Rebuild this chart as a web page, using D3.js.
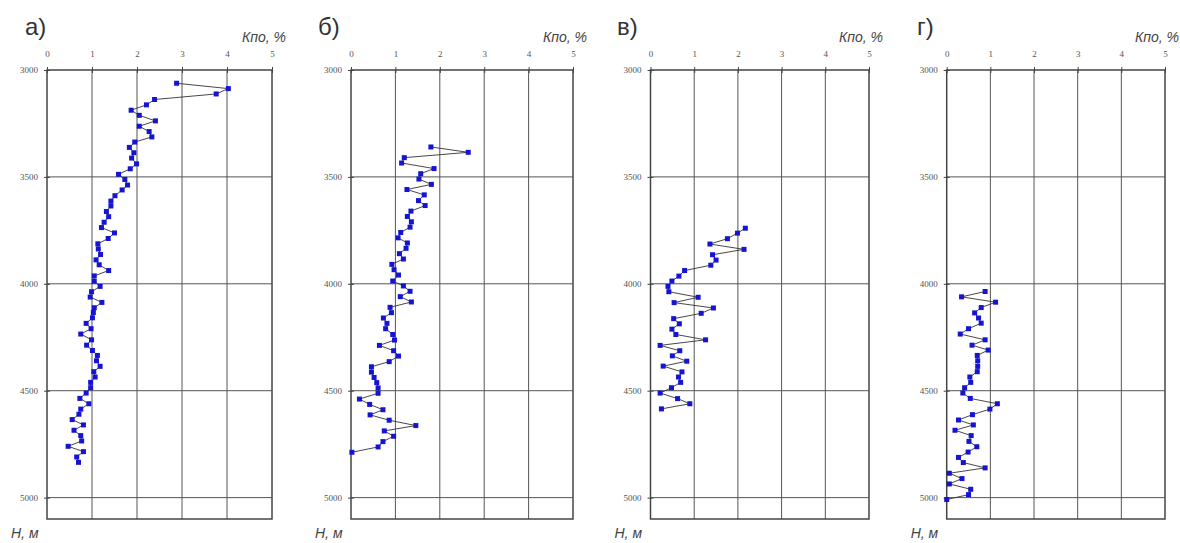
<!DOCTYPE html>
<html>
<head>
<meta charset="utf-8">
<script src="https://cdn.jsdelivr.net/npm/d3@7/dist/d3.min.js"></script>
<style>
    html, body { margin: 0; padding: 0; background: #fff; }
    svg { display: block; }
    .tick text { font-family: "Liberation Serif", "DejaVu Serif", serif; font-size: 9px; fill: #555; }
    .tick line { stroke: #444; stroke-width: 1; }
    .axis-title { font-family: "Liberation Sans", Arial, sans-serif; font-style: italic; font-size: 14px; fill: #444; }
    .panel-letter { font-family: "Liberation Sans", Arial, sans-serif; font-size: 24px; fill: #333; }
</style>
</head>
<body>
<div id="chart"></div>
<script>
;(function () {

    // ---- data ----
    var panelLetters = ['а)', 'б)', 'в)', 'г)'];
    var xTicks = [0, 1, 2, 3, 4, 5];
    var yTicks = [3000, 3500, 4000, 4500, 5000];

    var depthA = [3062, 3087, 3112, 3138, 3163, 3188, 3212, 3238, 3263, 3288, 3313, 3337, 3362, 3387, 3412, 3439,
        3462, 3488, 3512, 3538, 3561, 3588, 3613, 3636, 3662, 3686, 3712, 3737, 3762, 3788, 3813, 3837, 3863, 3888,
        3911, 3938, 3963, 3988, 4012, 4037, 4062, 4087, 4112, 4134, 4159, 4185, 4210, 4235, 4262, 4287, 4312, 4335,
        4360, 4386, 4411, 4436, 4461, 4486, 4511, 4536, 4561, 4586, 4610, 4635, 4660, 4685, 4710, 4735, 4760, 4785,
        4810, 4835];
    var kpoA = [2.88, 4.03, 3.76, 2.39, 2.21, 1.87, 2.05, 2.41, 2.05, 2.27, 2.33, 1.95, 1.83, 1.93, 1.88, 1.99,
        1.85, 1.59, 1.73, 1.79, 1.67, 1.51, 1.42, 1.42, 1.32, 1.37, 1.27, 1.21, 1.50, 1.36, 1.13, 1.14, 1.19, 1.09,
        1.16, 1.37, 1.05, 1.05, 1.18, 0.99, 0.96, 1.22, 1.05, 1.03, 1.01, 0.87, 0.98, 0.75, 0.99, 0.88, 1.01, 1.12,
        1.10, 1.18, 1.04, 1.07, 0.97, 0.97, 0.87, 0.73, 0.93, 0.75, 0.71, 0.56, 0.81, 0.60, 0.75, 0.77, 0.47, 0.81,
        0.66, 0.70];

    var depthB = [3360, 3385, 3410, 3435, 3461, 3485, 3510, 3535, 3559, 3584, 3611, 3634, 3660, 3685, 3710, 3735,
        3760, 3785, 3809, 3834, 3859, 3884, 3909, 3934, 3959, 3987, 4010, 4035, 4060, 4085, 4110, 4135, 4160, 4185,
        4210, 4237, 4263, 4288, 4313, 4338, 4364, 4388, 4413, 4438, 4462, 4487, 4512, 4539, 4564, 4589, 4613, 4638,
        4663, 4688, 4713, 4738, 4763, 4788];
    var kpoB = [1.80, 2.64, 1.20, 1.14, 1.87, 1.57, 1.53, 1.81, 1.26, 1.65, 1.52, 1.67, 1.35, 1.27, 1.36, 1.33,
        1.12, 1.06, 1.27, 1.24, 1.09, 1.18, 0.92, 0.97, 1.07, 0.94, 1.18, 1.33, 1.11, 1.36, 0.88, 0.91, 0.73, 0.81,
        0.78, 0.94, 0.98, 0.64, 0.96, 1.07, 0.86, 0.46, 0.46, 0.52, 0.58, 0.61, 0.61, 0.19, 0.42, 0.72, 0.43, 0.86,
        1.46, 0.75, 0.96, 0.72, 0.61, 0.02];

    var depthC = [3740, 3763, 3789, 3814, 3839, 3864, 3889, 3913, 3938, 3964, 3987, 4012, 4037, 4063, 4088, 4113,
        4138, 4163, 4187, 4212, 4237, 4262, 4288, 4313, 4337, 4362, 4385, 4412, 4436, 4461, 4486, 4511, 4537, 4561,
        4585];
    var kpoC = [2.17, 1.99, 1.76, 1.36, 2.14, 1.42, 1.50, 1.38, 0.78, 0.65, 0.49, 0.40, 0.42, 1.09, 0.54, 1.44,
        1.16, 0.53, 0.66, 0.49, 0.58, 1.26, 0.22, 0.67, 0.50, 0.83, 0.29, 0.72, 0.64, 0.69, 0.48, 0.22, 0.62, 0.90,
        0.25];

    var depthD = [4036, 4061, 4086, 4111, 4136, 4160, 4184, 4210, 4235, 4262, 4287, 4310, 4335, 4360, 4386, 4411,
        4436, 4461, 4486, 4511, 4536, 4561, 4586, 4612, 4637, 4660, 4685, 4710, 4737, 4762, 4787, 4812, 4836, 4861,
        4886, 4911, 4936, 4961, 4986, 5009];
    var kpoD = [0.88, 0.34, 1.12, 0.79, 0.64, 0.73, 0.79, 0.50, 0.31, 0.88, 0.58, 0.95, 0.70, 0.71, 0.71, 0.70,
        0.53, 0.55, 0.41, 0.37, 0.54, 1.16, 0.99, 0.59, 0.27, 0.61, 0.19, 0.56, 0.51, 0.69, 0.49, 0.27, 0.38, 0.88,
        0.06, 0.35, 0.06, 0.55, 0.50, 0.00];

    var depths = [depthA, depthB, depthC, depthD];
    var values = [kpoA, kpoB, kpoC, kpoD];

    // ---- layout ----
    var width = 1180
        , height = 543
        , top = 70
        , bottom = 519
        , panelX = [[47, 272], [351, 573], [650.5, 869], [946.7, 1165]]
        , letterX = [25, 318, 617, 917];

    var svg = d3.select('#chart').append('svg')
        .attr('width', width)
        .attr('height', height);

    var y = d3.scaleLinear()
        .domain([3000, 5100])
        .range([top, bottom]);

    var fmt = d3.format('d');

    function drawPanel(i) {
        var x = d3.scaleLinear()
            .domain([0, 5])
            .range(panelX[i]);

        var g = svg.append('g').attr('class', 'panel');

        // grid
        g.selectAll('.vgrid')
            .data(xTicks.slice(1, -1))
            .enter().append('line')
            .attr('x1', function(d) { return x(d); })
            .attr('x2', function(d) { return x(d); })
            .attr('y1', y(3000))
            .attr('y2', y(5100))
            .attr('stroke', '#555')
            .attr('stroke-width', 1);

        g.selectAll('.hgrid')
            .data(yTicks.slice(1))
            .enter().append('line')
            .attr('x1', x(0))
            .attr('x2', x(5))
            .attr('y1', function(d) { return y(d); })
            .attr('y2', function(d) { return y(d); })
            .attr('stroke', '#555')
            .attr('stroke-width', 1);

        g.append('rect')
            .attr('x', x(0))
            .attr('y', y(3000))
            .attr('width', x(5) - x(0))
            .attr('height', y(5100) - y(3000))
            .attr('fill', 'none')
            .attr('stroke', '#444')
            .attr('stroke-width', 1.5);

        // axes
        var xAxis = g.append('g')
            .attr('transform', 'translate(0,' + y(3000) + ')')
            .call(d3.axisTop(x).tickValues(xTicks).tickFormat(fmt).tickSize(3).tickPadding(10));
        xAxis.select('.domain').remove();
        xAxis.selectAll('.tick line').attr('y1', 3);

        var yAxis = g.append('g')
            .attr('transform', 'translate(' + x(0) + ',0)')
            .call(d3.axisLeft(y).tickValues(yTicks).tickFormat(fmt).tickSize(3).tickPadding(6));
        yAxis.select('.domain').remove();
        yAxis.selectAll('.tick line').attr('x1', 3);

        // series
        var pts = depths[i].map(function(d, j) {
            return { h: d, k: values[i][j] };
        });

        var line = d3.line()
            .x(function(d) { return x(d.k); })
            .y(function(d) { return y(d.h); });

        g.append('path')
            .datum(pts)
            .attr('d', line)
            .attr('fill', 'none')
            .attr('stroke', '#333')
            .attr('stroke-width', 0.9);

        g.selectAll('.pt')
            .data(pts)
            .enter().append('rect')
            .attr('x', function(d) { return x(d.k) - 2.5; })
            .attr('y', function(d) { return y(d.h) - 2.5; })
            .attr('width', 5)
            .attr('height', 5)
            .attr('fill', '#1414d2');

        // titles
        g.append('text')
            .attr('class', 'panel-letter')
            .attr('x', letterX[i])
            .attr('y', 35)
            .text(panelLetters[i]);

        g.append('text')
            .attr('class', 'axis-title')
            .attr('x', x(5) + 14)
            .attr('y', 42)
            .attr('text-anchor', 'end')
            .text('Кпо, %');

        g.append('text')
            .attr('class', 'axis-title')
            .attr('x', x(0) - 36)
            .attr('y', 538)
            .text('Н, м');
    }

    for (var i = 0; i < 4; i++) {
        drawPanel(i);
    }

}());
</script>
</body>
</html>
